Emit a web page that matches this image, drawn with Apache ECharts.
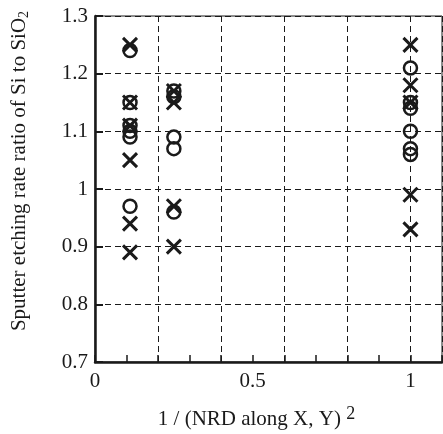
<!DOCTYPE html>
<html>
<head>
<meta charset="utf-8">
<script src="https://cdn.jsdelivr.net/npm/echarts@6/dist/echarts.min.js"></script>
<style>
  html, body { margin: 0; padding: 0; background: #fff; }
  #chart { width: 443px; height: 434px; }
</style>
</head>
<body>
<div id="chart"></div>
<script>
// x positions: 1 / NRD^2 for NRD = 3, 2, 1
const nrdX = [0.111, 0.25, 1.0];

// Etching-rate ratios marked with crosses, one list per column
const crossCol1 = [1.25, 1.15, 1.11, 1.05, 0.94, 0.89];
const crossCol2 = [1.17, 1.15, 0.97, 0.90];
const crossCol3 = [1.25, 1.18, 1.15, 0.99, 0.93];

// Etching-rate ratios marked with open circles
const circleCol1 = [1.24, 1.15, 1.11, 1.10, 1.09, 0.97];
const circleCol2 = [1.17, 1.16, 1.09, 1.07, 0.96];
const circleCol3 = [1.21, 1.15, 1.14, 1.10, 1.07, 1.06];

// Axis tick labels
const xTickLabels = ['0', '0.5', '1'];
const yTickLabels = ['0.7', '0.8', '0.9', '1', '1.1', '1.2', '1.3'];

function pairs(x, ys) { return ys.map(y => [x, y]); }
const crossData = [].concat(
  pairs(nrdX[0], crossCol1), pairs(nrdX[1], crossCol2), pairs(nrdX[2], crossCol3));
const circleData = [].concat(
  pairs(nrdX[0], circleCol1), pairs(nrdX[1], circleCol2), pairs(nrdX[2], circleCol3));

const ink = '#1a1a1a';
const serif = '"Liberation Serif", "DejaVu Serif", serif';

const chart = echarts.init(document.getElementById('chart'), null, { renderer: 'canvas' });

chart.setOption({
  animation: false,
  backgroundColor: '#fff',
  grid: {
    left: 95, top: 16, right: 1, bottom: 72,
    outerBoundsMode: 'none', containLabel: false,
    show: true, borderColor: ink, borderWidth: 1
  },
  xAxis: [
    {
      type: 'value', min: 0, max: 1.1, interval: 0.1,
      axisLine: { show: true, lineStyle: { color: ink, width: 2.5 } },
      axisTick: { show: true, inside: true, length: 7, lineStyle: { color: ink, width: 1.5 } },
      splitLine: { show: false },
      axisLabel: {
        color: ink, fontFamily: serif, fontSize: 21, margin: 9,
        formatter: v => {
          const s = String(Math.round(v * 10) / 10);
          return xTickLabels.indexOf(s) >= 0 ? s : '';
        }
      },
      name: '1 / (NRD along X, Y) {sup|2}',
      nameLocation: 'middle', nameGap: 43,
      nameTextStyle: {
        color: ink, fontFamily: serif, fontSize: 21, padding: [0, 24, 0, 0],
        rich: { sup: { fontFamily: serif, fontSize: 18, color: ink, padding: [0, 0, 10, 0] } }
      }
    },
    {
      // vertical dashed grid every 0.2
      type: 'value', min: 0, max: 1.1, interval: 0.2, position: 'bottom',
      axisLine: { show: false }, axisTick: { show: false }, axisLabel: { show: false },
      splitLine: { show: true, lineStyle: { color: ink, width: 1, type: [6, 4] } }
    }
  ],
  yAxis: {
    type: 'value', min: 0.7, max: 1.3, interval: 0.1,
    axisLine: { show: true, lineStyle: { color: ink, width: 2.5 } },
    axisTick: { show: true, inside: true, length: 8, lineStyle: { color: ink, width: 2 } },
    splitLine: { show: true, lineStyle: { color: ink, width: 1, type: [6, 4] } },
    axisLabel: {
      color: ink, fontFamily: serif, fontSize: 21, margin: 7,
      formatter: v => {
        const s = String(Math.round(v * 10) / 10);
        return yTickLabels.indexOf(s) >= 0 ? s : '';
      }
    },
    name: 'Sputter etching rate ratio of Si to SiO{sub|2}',
    nameLocation: 'middle', nameGap: 64, nameRotate: 90,
    nameTextStyle: {
      color: ink, fontFamily: serif, fontSize: 21, padding: [0, 0, 0, 36],
      rich: { sub: { fontFamily: serif, fontSize: 14, color: ink, padding: [9, 0, 0, 0] } }
    }
  },
  series: [
    {
      name: 'circle', type: 'scatter', xAxisIndex: 0,
      symbol: 'circle', symbolSize: 13,
      itemStyle: { color: 'rgba(0,0,0,0)', borderColor: ink, borderWidth: 2.5, opacity: 1 },
      data: circleData, z: 3
    },
    {
      name: 'cross', type: 'scatter', xAxisIndex: 0,
      symbol: 'path://M0,0L10,10M10,0L0,10', symbolSize: 14,
      itemStyle: { color: 'rgba(0,0,0,0)', borderColor: ink, borderWidth: 3, opacity: 1 },
      data: crossData, z: 4
    }
  ]
});
</script>
</body>
</html>
